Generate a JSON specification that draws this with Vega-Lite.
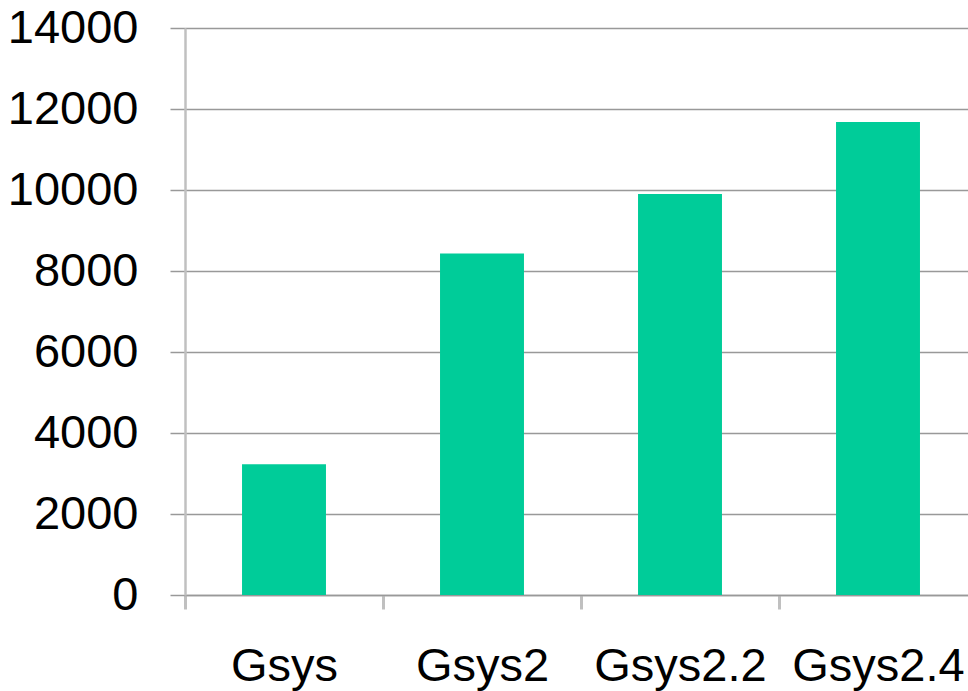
{
  "$schema": "https://vega.github.io/schema/vega-lite/v6.json",
  "autosize": "none",
  "width": 783,
  "height": 567,
  "padding": {"left": 185, "top": 28, "right": 0, "bottom": 96},
  "background": "white",
  "config": {
    "view": {"stroke": null},
    "font": "Liberation Sans"
  },
  "data": {
    "values": [
      {"version": "Gsys", "value": 3230},
      {"version": "Gsys2", "value": 8430},
      {"version": "Gsys2.2", "value": 9900},
      {"version": "Gsys2.4", "value": 11680}
    ]
  },
  "mark": {"type": "bar", "color": "#00cc99", "width": {"band": 0.424}},
  "encoding": {
    "x": {
      "field": "version",
      "type": "nominal",
      "sort": null,
      "title": null,
      "scale": {"range": [0, 792], "paddingInner": 0, "paddingOuter": 0},
      "axis": {
        "labelAngle": 0,
        "labelFontSize": 47,
        "labelColor": "#000000",
        "labelPadding": 34,
        "tickBand": "extent",
        "tickSize": 14,
        "tickWidth": 3,
        "tickColor": "#c0c0c0",
        "domainColor": "#999999",
        "domainWidth": 1.5,
        "grid": false
      }
    },
    "y": {
      "field": "value",
      "type": "quantitative",
      "title": null,
      "scale": {"domain": [0, 14000], "nice": false},
      "axis": {
        "values": [0, 2000, 4000, 6000, 8000, 10000, 12000, 14000],
        "format": "d",
        "labelFontSize": 47,
        "labelColor": "#000000",
        "labelPadding": 32,
        "tickSize": 15,
        "tickColor": "#999999",
        "tickWidth": 1.5,
        "domainColor": "#c0c0c0",
        "domainWidth": 2.5,
        "grid": true,
        "gridColor": "#999999",
        "gridWidth": 1.5
      }
    }
  }
}
